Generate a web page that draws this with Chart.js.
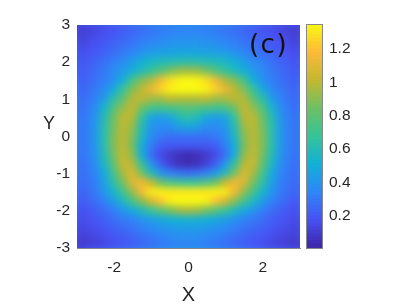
<!DOCTYPE html>
<html><head><meta charset="utf-8">
<script src="https://cdn.jsdelivr.net/npm/chart.js@4"></script>
<style>html,body{margin:0;padding:0;background:#fff}canvas{position:absolute;left:0;top:0}</style>
</head><body>
<canvas id="map" width="407" height="307"></canvas>
<canvas id="bar" width="407" height="307"></canvas>
<script>
const xValues=[-3,-2.75,-2.5,-2.25,-2,-1.75,-1.5,-1.25,-1,-0.75,-0.5,-0.25,0,0.25,0.5,0.75,1,1.25,1.5,1.75,2,2.25,2.5,2.75,3];
const yValues=[3,2.75,2.5,2.25,2,1.75,1.5,1.25,1,0.75,0.5,0.25,0,-0.25,-0.5,-0.75,-1,-1.25,-1.5,-1.75,-2,-2.25,-2.5,-2.75,-3];
const xTicks=[-2,0,2];
const yTicks=[-3,-2,-1,0,1,2,3];
const barTicks=[0.2,0.4,0.6,0.8,1,1.2];
const zMin=0.008, zMax=1.344;
const zValues=[
[.07,.09,.12,.14,.16,.19,.21,.24,.26,.28,.29,.30,.30,.30,.29,.28,.26,.24,.21,.19,.16,.14,.12,.09,.07],
[.09,.12,.14,.17,.19,.22,.25,.28,.30,.32,.34,.35,.35,.35,.34,.32,.30,.28,.25,.22,.19,.17,.14,.12,.09],
[.11,.14,.17,.20,.23,.26,.29,.32,.35,.37,.39,.40,.40,.40,.39,.37,.35,.32,.29,.26,.23,.20,.17,.14,.11],
[.14,.17,.20,.23,.26,.30,.34,.38,.42,.44,.45,.46,.46,.46,.45,.44,.42,.38,.34,.30,.26,.23,.20,.17,.14],
[.16,.20,.23,.27,.32,.37,.43,.50,.55,.58,.60,.61,.62,.61,.60,.58,.55,.50,.43,.37,.32,.27,.23,.20,.16],
[.18,.22,.26,.30,.36,.42,.50,.58,.67,.76,.86,.93,.95,.93,.86,.76,.67,.58,.50,.42,.36,.30,.26,.22,.18],
[.20,.23,.27,.32,.38,.50,.72,.88,.96,1.14,1.27,1.33,1.36,1.33,1.27,1.14,.96,.88,.72,.50,.38,.32,.27,.23,.20],
[.22,.25,.30,.36,.48,.68,.88,1.00,1.12,1.24,1.32,1.36,1.37,1.36,1.32,1.24,1.12,1.00,.88,.68,.48,.36,.30,.25,.22],
[.23,.27,.33,.43,.63,.80,.98,1.00,.95,.94,1.00,.98,.98,.98,1.00,.94,.95,1.00,.98,.80,.63,.43,.33,.27,.23],
[.24,.29,.37,.54,.76,.92,1.02,.84,.72,.70,.72,.75,.78,.75,.72,.70,.72,.84,1.02,.92,.76,.54,.37,.29,.24],
[.25,.30,.39,.60,.84,1.00,.98,.66,.46,.42,.46,.58,.63,.58,.46,.42,.46,.66,.98,1.00,.84,.60,.39,.30,.25],
[.25,.31,.40,.62,.86,1.00,.92,.60,.40,.36,.37,.44,.47,.44,.37,.36,.40,.60,.92,1.00,.86,.62,.40,.31,.25],
[.25,.31,.41,.62,.88,1.00,.88,.56,.37,.30,.28,.28,.28,.28,.28,.30,.37,.56,.88,1.00,.88,.62,.41,.31,.25],
[.25,.31,.40,.62,.88,1.00,.86,.50,.32,.22,.20,.20,.20,.20,.20,.22,.32,.50,.86,1.00,.88,.62,.40,.31,.25],
[.25,.30,.39,.60,.86,1.02,.90,.50,.27,.15,.09,.05,.03,.05,.09,.15,.27,.50,.90,1.02,.86,.60,.39,.30,.25],
[.24,.29,.37,.56,.80,1.03,.98,.66,.40,.22,.11,.05,.03,.05,.11,.22,.40,.66,.98,1.03,.80,.56,.37,.29,.24],
[.24,.28,.34,.48,.72,.96,1.08,.86,.60,.42,.33,.29,.27,.29,.33,.42,.60,.86,1.08,.96,.72,.48,.34,.28,.24],
[.23,.27,.32,.44,.64,.86,1.08,1.14,1.02,.84,.74,.70,.68,.70,.74,.84,1.02,1.14,1.08,.86,.64,.44,.32,.27,.23],
[.21,.25,.30,.40,.54,.72,.92,1.16,1.30,1.32,1.30,1.30,1.30,1.30,1.30,1.32,1.30,1.16,.92,.72,.54,.40,.30,.25,.21],
[.18,.22,.27,.33,.43,.56,.72,.90,1.06,1.20,1.32,1.36,1.37,1.36,1.32,1.20,1.06,.90,.72,.56,.43,.33,.27,.22,.18],
[.15,.18,.22,.26,.32,.40,.48,.58,.68,.78,.86,.94,.96,.94,.86,.78,.68,.58,.48,.40,.32,.26,.22,.18,.15],
[.13,.16,.19,.22,.26,.30,.33,.38,.43,.47,.50,.52,.53,.52,.50,.47,.43,.38,.33,.30,.26,.22,.19,.16,.13],
[.11,.14,.16,.19,.22,.25,.28,.32,.35,.38,.40,.42,.42,.42,.40,.38,.35,.32,.28,.25,.22,.19,.16,.14,.11],
[.09,.11,.13,.15,.18,.20,.23,.26,.29,.32,.34,.36,.36,.36,.34,.32,.29,.26,.23,.20,.18,.15,.13,.11,.09],
[.07,.09,.11,.13,.16,.18,.20,.23,.26,.28,.30,.32,.32,.32,.30,.28,.26,.23,.20,.18,.16,.13,.11,.09,.07]
];
const paletteStops=[[62,38,168],[72,82,244],[46,135,247],[18,177,214],[55,196,151],[110,192,100],[195,184,48],[252,186,56],[250,248,18]];

function parula(v){
  const t=Math.max(0,Math.min(1,(v-zMin)/(zMax-zMin)))*(paletteStops.length-1);
  const i=Math.min(paletteStops.length-2,Math.floor(t)),f=t-i;
  const a=paletteStops[i],b=paletteStops[i+1];
  return `rgb(${a.map((c,k)=>Math.round(c+(b[k]-c)*f)).join(',')})`;
}
const FONT='"Liberation Sans",Arial,sans-serif', INK='#262626';
const cells=[];
yValues.forEach((y,r)=>xValues.forEach((x,c)=>cells.push({x,y,v:zValues[r][c]})));

// Smooths the cells the library has drawn, as interpolated shading does.
const smooth={id:'smooth',afterDatasetsDraw(chart){
  const {ctx,chartArea:a,canvas}=chart;const w=a.right-a.left,h=a.bottom-a.top,p=24;
  const t=document.createElement('canvas');t.width=w+2*p;t.height=h+2*p;const g=t.getContext('2d');
  g.drawImage(canvas,a.left,a.top,w,h,0,0,w+2*p,h+2*p);
  g.drawImage(canvas,a.left,a.top,w,h,p,p,w,h);
  ctx.save();ctx.beginPath();ctx.rect(a.left,a.top,w,h);ctx.clip();
  ctx.filter='blur(3.5px)';ctx.drawImage(t,a.left-p,a.top-p);ctx.restore();
}};
const labels={id:'labels',afterDraw(chart){
  const {ctx}=chart;ctx.save();ctx.fillStyle=INK;ctx.textAlign='center';ctx.textBaseline='middle';
  ctx.font=`18px ${FONT}`;ctx.fillText('Y',49,124);
  ctx.fillStyle='#111';ctx.font='26px "DejaVu Sans"';ctx.letterSpacing='1.5px';ctx.fillText('(c)',268.5,46);ctx.restore();
}};
new Chart(document.getElementById('map'),{
  type:'scatter',
  data:{datasets:[{data:cells,pointStyle:'rect',pointRadius:7.4,pointBorderWidth:0,pointHoverRadius:7.4,
    backgroundColor:c=>parula(c.raw?c.raw.v:0)}]},
  plugins:[smooth,labels],
  options:{responsive:false,animation:false,
    layout:{padding:{top:25,right:107,left:0,bottom:0}},
    plugins:{legend:{display:false},tooltip:{enabled:false}},
    scales:{
      x:{type:'linear',min:-3,max:3,afterFit:s=>{s.height=59},afterBuildTicks:s=>{s.ticks=xTicks.map(value=>({value}))},
        grid:{display:false,tickLength:8},border:{color:'#888'},
        ticks:{font:{family:FONT,size:15.5},color:INK,padding:2,maxRotation:0,autoSkip:false},
        title:{display:true,text:'X',font:{family:FONT,size:20},color:INK,padding:{top:0,bottom:0}}},
      y:{type:'linear',min:-3,max:3,afterFit:s=>{s.width=77},afterBuildTicks:s=>{s.ticks=yTicks.map(value=>({value}))},
        grid:{display:false,tickLength:7},border:{color:'#888'},
        ticks:{font:{family:FONT,size:15.5},color:INK,padding:0,autoSkip:false}}
    }}
});
// Colour bar
const barLevels=[];for(let i=0;i<64;i++){barLevels.push(zMin+(zMax-zMin)*i/64);}
const boxPlugin={id:'box',afterDraw(chart){const {ctx,chartArea:a}=chart;ctx.save();ctx.strokeStyle='#888';ctx.lineWidth=1;
  ctx.strokeRect(a.left-.5,a.top-.5,a.right-a.left+1,a.bottom-a.top+1);ctx.restore();}};
new Chart(document.getElementById('bar'),{
  type:'bar',
  data:{labels:['c'],datasets:barLevels.map(v=>({data:[[v,v+(zMax-zMin)/64+.003]],backgroundColor:parula(v+(zMax-zMin)/128),barPercentage:1,categoryPercentage:1,grouped:false}))},
  plugins:[boxPlugin],
  options:{responsive:false,animation:false,
    layout:{padding:{top:25,bottom:59,left:307,right:0}},
    plugins:{legend:{display:false},tooltip:{enabled:false}},
    scales:{
      x:{display:false,stacked:false},
      y:{position:'right',min:zMin,max:zMax,afterFit:s=>{s.width=85},afterBuildTicks:s=>{s.ticks=barTicks.map(value=>({value}))},
        grid:{display:false,tickLength:7},border:{display:false},
        ticks:{font:{family:FONT,size:15.5},color:INK,padding:0,autoSkip:false,callback:v=>String(v)}}
    }}
});
</script>
</body></html>
